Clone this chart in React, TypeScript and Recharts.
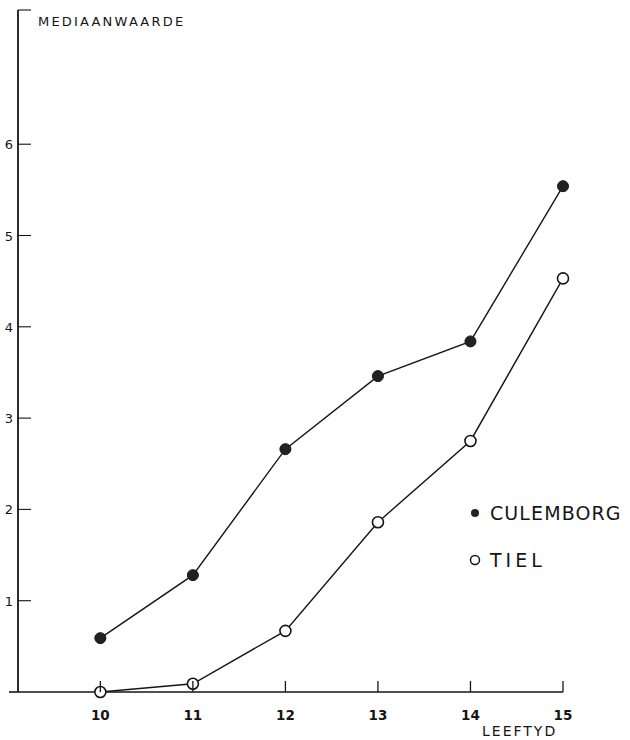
import React from 'react';
import { LineChart, Line, XAxis, YAxis, Customized } from 'recharts';

const ages = [10, 11, 12, 13, 14, 15];
const culemborg = [0.59, 1.28, 2.66, 3.46, 3.84, 5.54];
const tiel = [0, 0.09, 0.67, 1.86, 2.75, 4.53];
const yTicks = [1, 2, 3, 4, 5, 6, 7.47];
const yTickLabels: Record<number, string> = { 1: '1', 2: '2', 3: '3', 4: '4', 5: '5', 6: '6', 7.47: '' };
const seriesNames = ['CULEMBORG', 'TIEL'];

const data = ages.map((a, i) => ({ age: a, culemborg: culemborg[i], tiel: tiel[i] }));

const INK = '#151515';
const FONT = '"DejaVu Sans", "Liberation Sans", sans-serif';
const PLOT_LEFT = 18;
const PLOT_BOTTOM = 692;

const XTick = (props: any) => {
  const { x, payload } = props;
  return (
    <g>
      <line x1={x} y1={PLOT_BOTTOM} x2={x} y2={PLOT_BOTTOM - 11} stroke={INK} strokeWidth={1.3} />
      <text x={x} y={720} textAnchor="middle" fontSize={13.5} fontWeight="bold" fontFamily={FONT} fill={INK}>
        {payload.value}
      </text>
    </g>
  );
};

const YTick = (props: any) => {
  const { y, payload } = props;
  return (
    <g>
      <line x1={PLOT_LEFT} y1={y} x2={PLOT_LEFT + 13} y2={y} stroke={INK} strokeWidth={1.1} />
      <text x={PLOT_LEFT - 5} y={y + 5} textAnchor="end" fontSize={13} fontFamily={FONT} fill={INK}>
        {yTickLabels[payload.value]}
      </text>
    </g>
  );
};

const FilledDot = (props: any) => {
  const { cx, cy } = props;
  return <circle cx={cx} cy={cy} r={5.5} fill="#222" stroke={INK} strokeWidth={1} />;
};

const OpenDot = (props: any) => {
  const { cx, cy } = props;
  return <circle cx={cx} cy={cy} r={5.5} fill="#fff" stroke={INK} strokeWidth={1.6} />;
};

const Overlay = () => (
  <g>
    <line x1={9} y1={PLOT_BOTTOM} x2={PLOT_LEFT} y2={PLOT_BOTTOM} stroke={INK} strokeWidth={1.6} />
    <text x={38} y={26} fontSize={13} fontFamily={FONT} fill={INK} letterSpacing={2.2}>
      MEDIAANWAARDE
    </text>
    <text x={482} y={736} fontSize={14} fontFamily={FONT} fill={INK} letterSpacing={2}>
      LEEFTYD
    </text>
    <circle cx={475} cy={513} r={4} fill="#222" />
    <text x={490} y={520} fontSize={19} fontFamily={FONT} fill={INK} letterSpacing={1.1}>
      {seriesNames[0]}
    </text>
    <circle cx={475} cy={560} r={4.5} fill="#fff" stroke={INK} strokeWidth={1.5} />
    <text x={490} y={567} fontSize={19} fontFamily={FONT} fill={INK} letterSpacing={4}>
      {seriesNames[1]}
    </text>
  </g>
);

export default function App() {
  return (
    <div style={{ position: 'absolute', left: 0, top: 0, background: '#fff' }}>
      <LineChart
        width={630}
        height={740}
        data={data}
        margin={{ top: 10, left: 8, right: 67, bottom: 18 }}
      >
        <XAxis
          dataKey="age"
          type="number"
          domain={[9.11, 15]}
          ticks={ages}
          height={30}
          tickLine={false}
          axisLine={{ stroke: INK, strokeWidth: 1.6 }}
          tick={<XTick />}
        />
        <YAxis
          type="number"
          domain={[0, 7.47]}
          ticks={yTicks}
          width={10}
          tickLine={false}
          axisLine={{ stroke: INK, strokeWidth: 1.8 }}
          tick={<YTick />}
          interval={0}
        />
        <Line
          type="linear"
          dataKey="culemborg"
          stroke={INK}
          strokeWidth={1.4}
          dot={<FilledDot />}
          isAnimationActive={false}
        />
        <Line
          type="linear"
          dataKey="tiel"
          stroke={INK}
          strokeWidth={1.4}
          dot={<OpenDot />}
          isAnimationActive={false}
        />
        <Customized component={Overlay} />
      </LineChart>
    </div>
  );
}
